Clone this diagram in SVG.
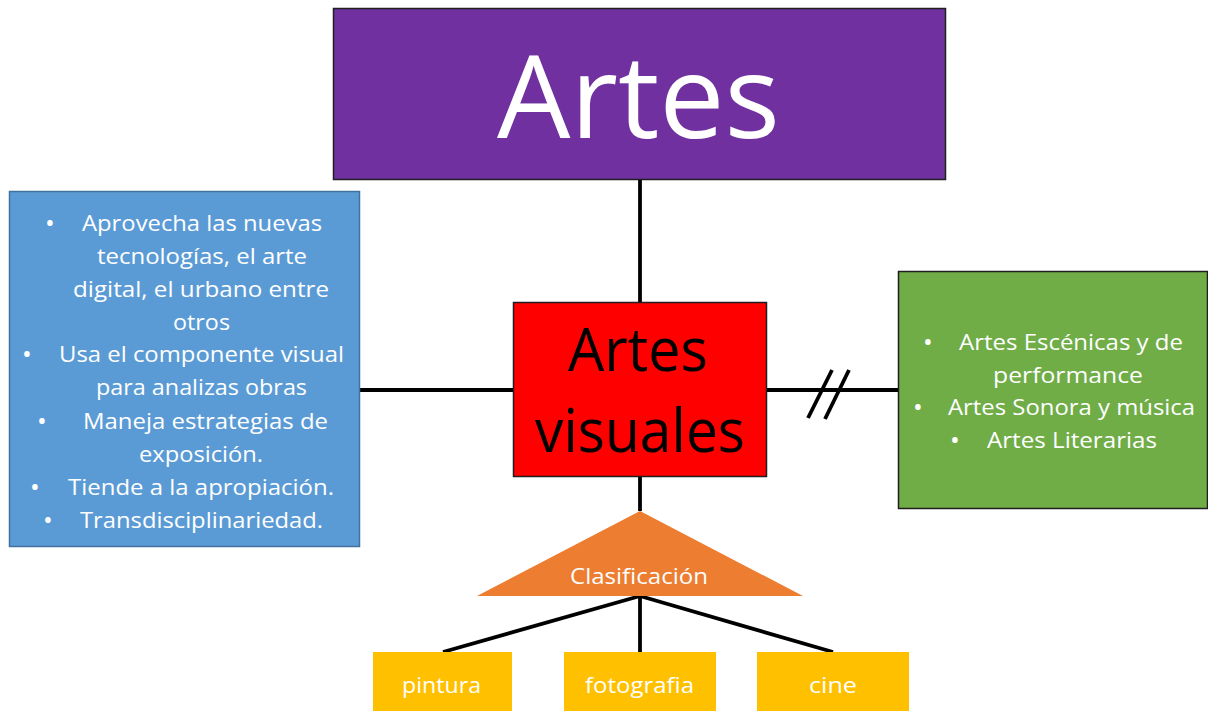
<svg xmlns="http://www.w3.org/2000/svg" width="1208" height="711" viewBox="0 0 1208 711">
<style>
.t{font-family:"Open Sans","Noto Sans","Liberation Sans",sans-serif;}
.w{fill:#FFFFFF;}
.b{fill:#000000;}
.body{font-size:22px;}
.bul{font-size:26px;}
.ln{stroke:#000000;stroke-width:3.8;fill:none;}
</style>
<rect width="1208" height="711" fill="#FFFFFF"/>
<g id="connectors">
<line class="ln" x1="640" y1="180" x2="640" y2="303"/>
<line class="ln" x1="360" y1="390" x2="513" y2="390"/>
<line class="ln" x1="767" y1="390" x2="898" y2="390"/>
<line class="ln" x1="808" y1="418" x2="832" y2="370"/>
<line class="ln" x1="825" y1="419" x2="849" y2="370"/>
<line class="ln" x1="640" y1="477" x2="640" y2="511"/>
<line class="ln" x1="640" y1="596" x2="443" y2="652"/>
<line class="ln" x1="640" y1="596" x2="640" y2="652"/>
<line class="ln" x1="640" y1="596" x2="833" y2="652"/>
</g>
<g id="artes">
<rect x="333.5" y="8.5" width="612" height="171" fill="#7030A0" stroke="#1F1F1F" stroke-width="1.5"/>
<text class="t w" x="497" y="138" font-size="116" textLength="283" lengthAdjust="spacingAndGlyphs">Artes</text>
</g>
<g id="artes-visuales">
<rect x="513.5" y="302.5" width="253" height="174" fill="#FF0000" stroke="#1F1F1F" stroke-width="1.5"/>
<text class="t b" x="568" y="371" font-size="60" textLength="140" lengthAdjust="spacingAndGlyphs">Artes</text>
<text class="t b" x="535" y="452" font-size="60" textLength="210" lengthAdjust="spacingAndGlyphs">visuales</text>
</g>
<g id="caracteristicas">
<rect x="9.5" y="191.5" width="350" height="355" fill="#5B9BD5" stroke="#41719C" stroke-width="1.5"/>
<g class="t w body">
<text class="bul" x="45" y="232">•</text>
<text x="82" y="231" textLength="240" lengthAdjust="spacingAndGlyphs">Aprovecha las nuevas</text>
<text x="97" y="264" textLength="210" lengthAdjust="spacingAndGlyphs">tecnologías, el arte</text>
<text x="73" y="297" textLength="256" lengthAdjust="spacingAndGlyphs">digital, el urbano entre</text>
<text x="173" y="330" textLength="57" lengthAdjust="spacingAndGlyphs">otros</text>
<text class="bul" x="22" y="363">•</text>
<text x="59" y="362" textLength="285" lengthAdjust="spacingAndGlyphs">Usa el componente visual</text>
<text x="96" y="395" textLength="211" lengthAdjust="spacingAndGlyphs">para analizas obras</text>
<text class="bul" x="37" y="430">•</text>
<text x="83" y="429" textLength="245" lengthAdjust="spacingAndGlyphs">Maneja estrategias de</text>
<text x="139" y="462" textLength="124" lengthAdjust="spacingAndGlyphs">exposición.</text>
<text class="bul" x="30" y="496">•</text>
<text x="68" y="495" textLength="266" lengthAdjust="spacingAndGlyphs">Tiende a la apropiación.</text>
<text class="bul" x="43" y="529">•</text>
<text x="80" y="528" textLength="243" lengthAdjust="spacingAndGlyphs">Transdisciplinariedad.</text>
</g>
</g>
<g id="otras-artes">
<rect x="898.5" y="271.5" width="309" height="237" fill="#70AD47" stroke="#1F1F1F" stroke-width="1.5"/>
<g class="t w body">
<text class="bul" x="923" y="351">•</text>
<text x="959" y="350" textLength="224" lengthAdjust="spacingAndGlyphs">Artes Escénicas y de</text>
<text x="993" y="383" textLength="150" lengthAdjust="spacingAndGlyphs">performance</text>
<text class="bul" x="913" y="416">•</text>
<text x="948" y="415" textLength="247" lengthAdjust="spacingAndGlyphs">Artes Sonora y música</text>
<text class="bul" x="950" y="449">•</text>
<text x="987" y="448" textLength="170" lengthAdjust="spacingAndGlyphs">Artes Literarias</text>
</g>
</g>
<g id="clasificacion">
<polygon points="640,511 803,596 477,596" fill="#ED7D31"/>
<text class="t w" x="570" y="584" font-size="21" textLength="138" lengthAdjust="spacingAndGlyphs">Clasificación</text>
</g>
<g id="pintura">
<rect x="373" y="652" width="139" height="59" fill="#FFC000"/>
<text class="t w body" x="402" y="693" textLength="79" lengthAdjust="spacingAndGlyphs">pintura</text>
</g>
<g id="fotografia">
<rect x="564" y="652" width="152" height="59" fill="#FFC000"/>
<text class="t w body" x="585" y="693" textLength="109" lengthAdjust="spacingAndGlyphs">fotografia</text>
</g>
<g id="cine">
<rect x="757" y="652" width="152" height="59" fill="#FFC000"/>
<text class="t w body" x="809" y="693" textLength="48" lengthAdjust="spacingAndGlyphs">cine</text>
</g>
</svg>
